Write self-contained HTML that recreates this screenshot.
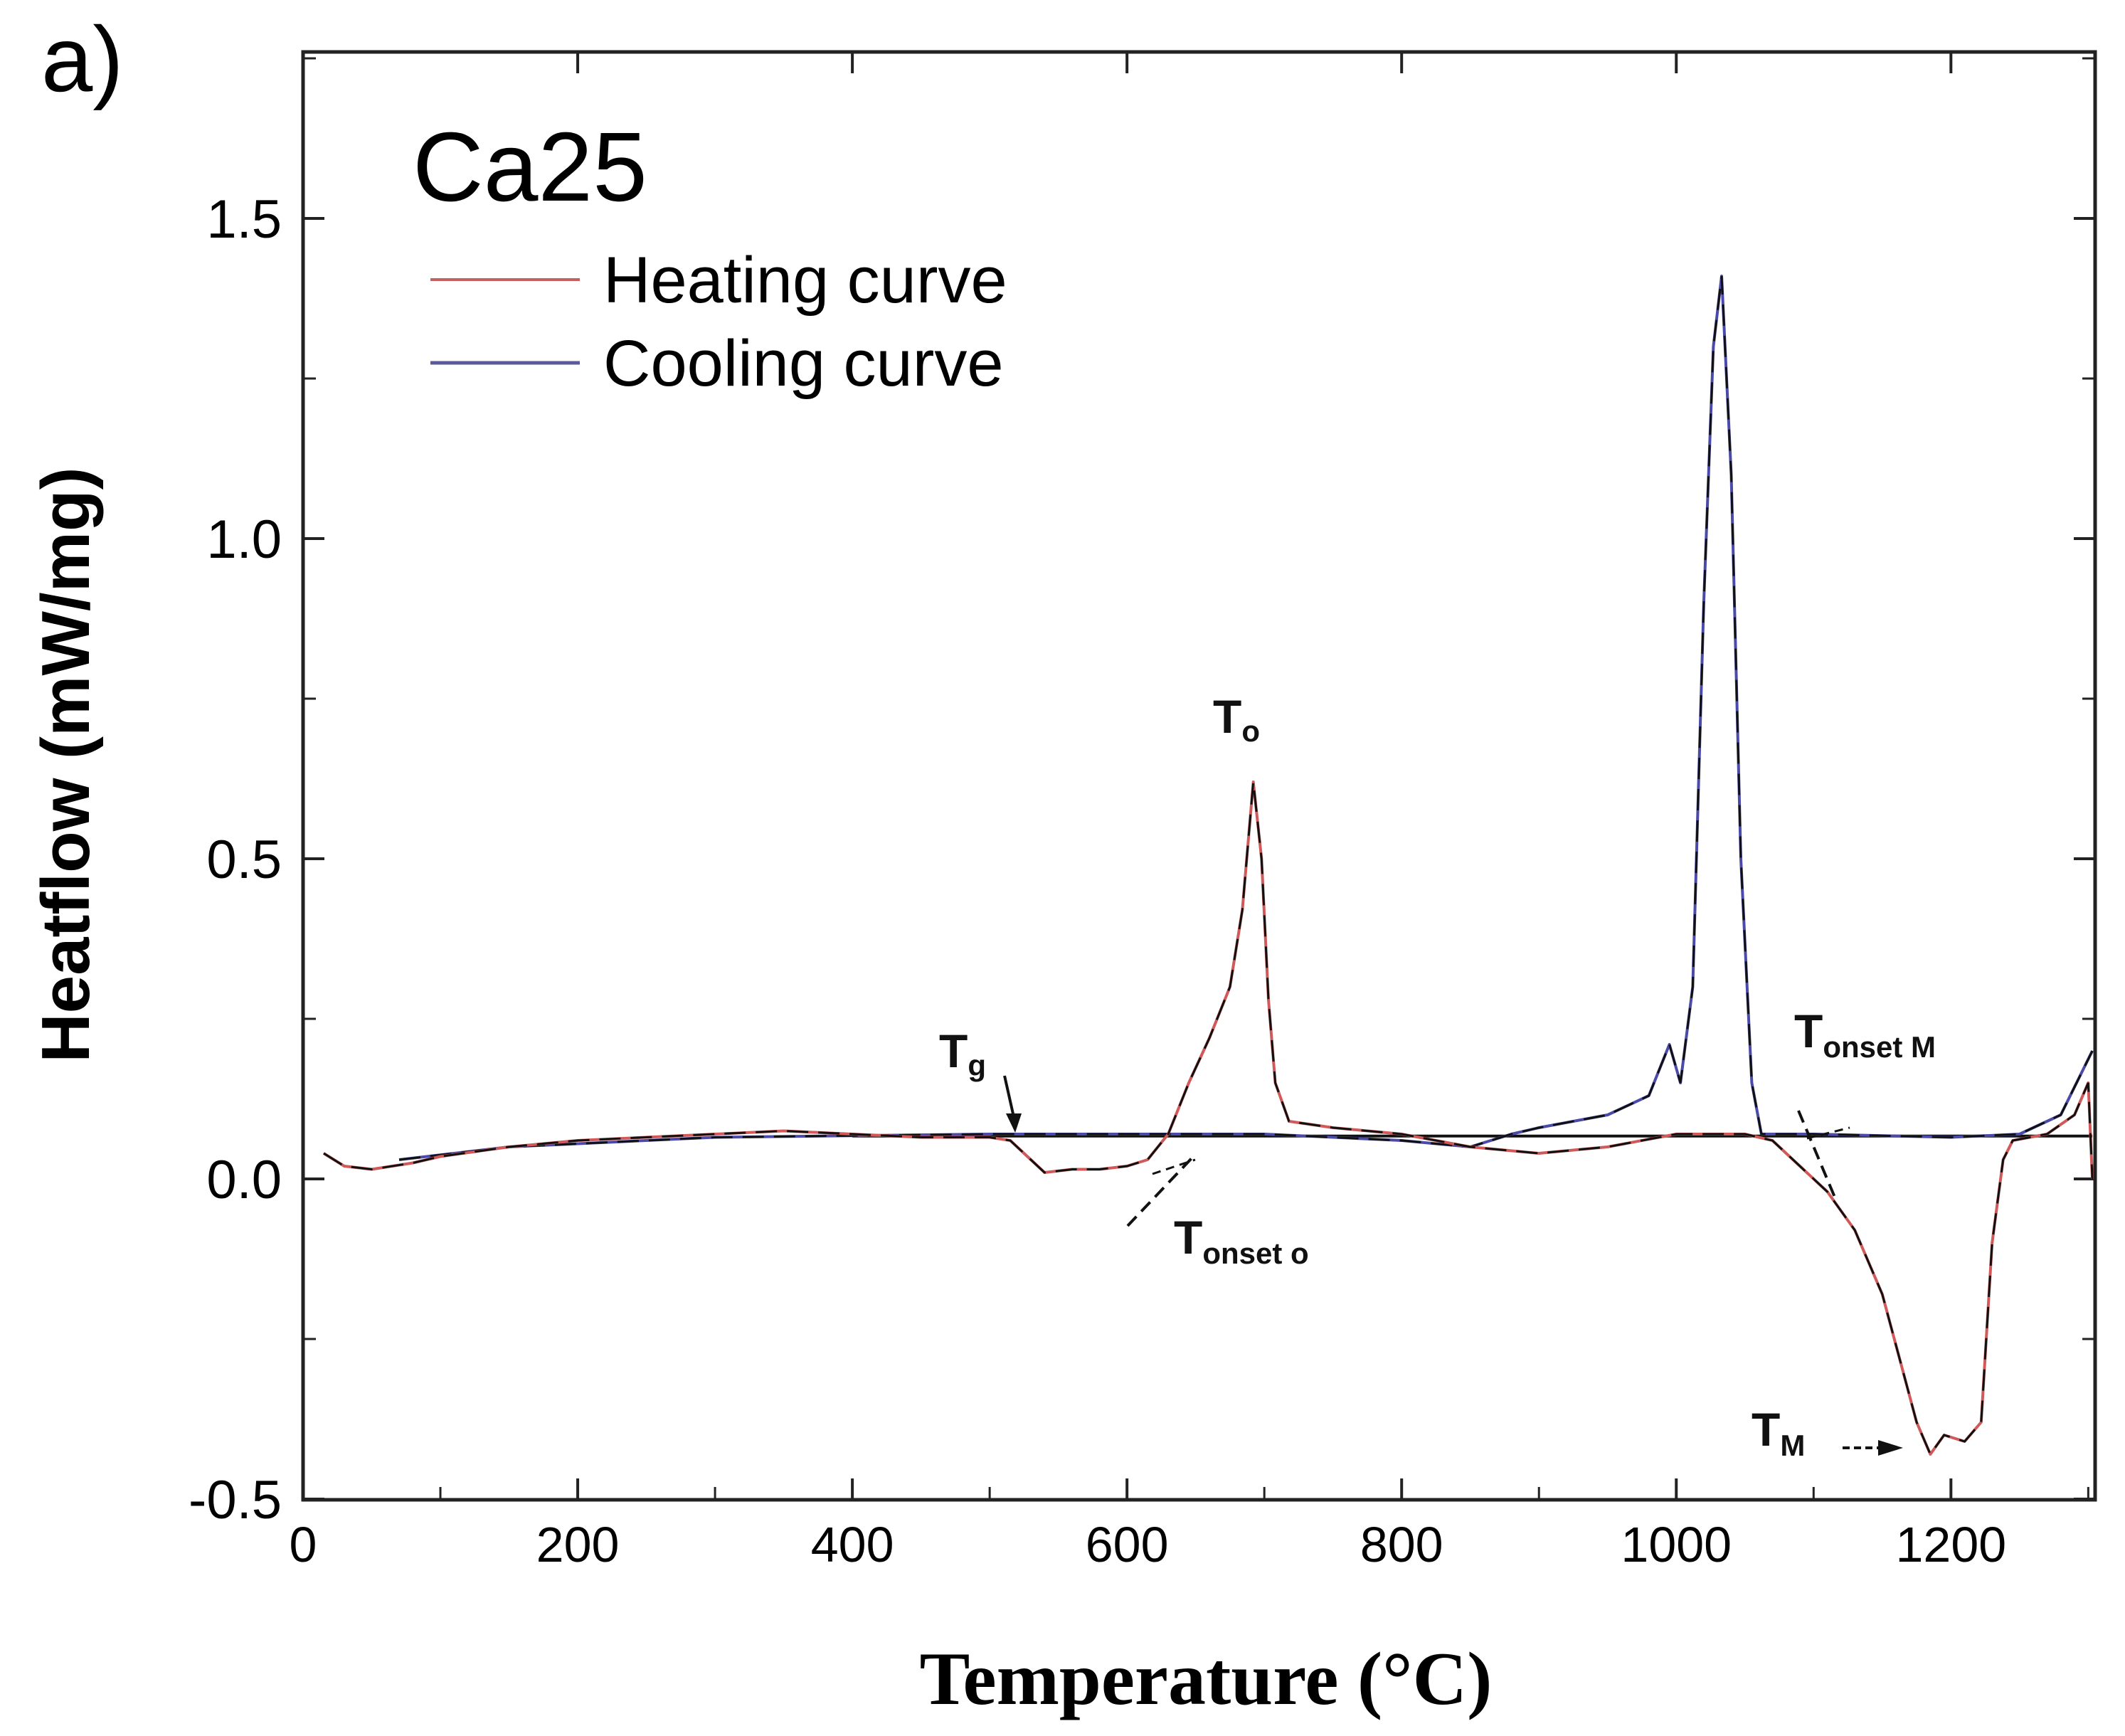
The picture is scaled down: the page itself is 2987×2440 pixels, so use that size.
<!DOCTYPE html>
<html><head><meta charset="utf-8"><style>
html,body{margin:0;padding:0;background:#fff;width:2987px;height:2440px;overflow:hidden}
svg text{font-family:"Liberation Sans",sans-serif}
</style></head><body>
<svg id="chart" width="2987" height="2440" viewBox="0 0 2987 2440" xmlns="http://www.w3.org/2000/svg">
<text x="58" y="128" font-size="130">a)</text>
<rect x="426" y="73" width="2519" height="2035" fill="none" stroke="#222" stroke-width="5"/>
<g id="ticks"></g>
<g id="series"></g>
<text x="580" y="282" font-size="138">Ca25</text>
<line x1="605" y1="393" x2="815" y2="393" stroke="#c46060" stroke-width="4"/>
<text x="848" y="425" font-size="92">Heating curve</text>
<line x1="605" y1="510" x2="815" y2="510" stroke="#5a5a9a" stroke-width="5"/>
<text x="848" y="542" font-size="92">Cooling curve</text>
<text transform="translate(125,1075) rotate(-90)" text-anchor="middle" font-size="96" font-weight="bold">Heatflow (mW/mg)</text>
<text x="1695" y="2395" text-anchor="middle" font-size="106" font-weight="bold" style="font-family:'Liberation Serif',serif">Temperature (°C)</text>
<g font-weight="bold" fill="#111">
<text x="1320" y="1500" font-size="66">T<tspan font-size="42" dy="12">g</tspan></text>
<line x1="1412" y1="1512" x2="1425" y2="1570" stroke="#111" stroke-width="4"/>
<polygon points="1414,1565 1436,1565 1427,1592" fill="#111"/>
<text x="1705" y="1030" font-size="66">T<tspan font-size="42" dy="12">o</tspan></text>
<text x="1650" y="1762" font-size="66">T<tspan font-size="42" dy="14">onset o</tspan></text>
<text x="2522" y="1472" font-size="66">T<tspan font-size="42" dy="14">onset M</tspan></text>
<text x="2462" y="2032" font-size="66">T<tspan font-size="42" dy="14">M</tspan></text>
<line x1="2590" y1="2035" x2="2650" y2="2035" stroke="#111" stroke-width="4" stroke-dasharray="10,6"/>
<polygon points="2640,2024 2675,2035 2640,2046" fill="#111"/>
<line x1="1585" y1="1723" x2="1675" y2="1628" stroke="#111" stroke-width="4" stroke-dasharray="18,10"/>
<line x1="1620" y1="1650" x2="1680" y2="1630" stroke="#111" stroke-width="3" stroke-dasharray="12,8"/>
<line x1="2528" y1="1561" x2="2580" y2="1685" stroke="#111" stroke-width="4" stroke-dasharray="18,10"/>
<line x1="2540" y1="1600" x2="2600" y2="1585" stroke="#111" stroke-width="3" stroke-dasharray="12,8"/>
</g>
</svg>
<script>
const xTicks=[0,200,400,600,800,1000,1200];
const xMinor=[100,300,500,700,900,1100,1300];
const yTicks=[-0.5,0.0,0.5,1.0,1.5];
const yTickLabels=["-0.5","0.0","0.5","1.0","1.5"];
const yMinor=[-0.25,0.25,0.75,1.25,1.75];
const heatT=[15,30,50,80,100,150,200,300,350,400,450,500,515,530,540,560,580,600,615,630,645,660,675,684,692,698,703,708,718,750,800,850,900,950,1000,1050,1070,1090,1110,1130,1150,1165,1175,1185,1195,1210,1222,1230,1238,1245,1270,1290,1300,1303];
const heatV=[0.04,0.02,0.015,0.025,0.035,0.05,0.06,0.07,0.075,0.07,0.065,0.065,0.06,0.03,0.01,0.015,0.015,0.02,0.03,0.07,0.15,0.22,0.3,0.42,0.62,0.5,0.28,0.15,0.09,0.08,0.07,0.05,0.04,0.05,0.07,0.07,0.06,0.02,-0.02,-0.08,-0.18,-0.3,-0.38,-0.43,-0.4,-0.41,-0.38,-0.1,0.03,0.06,0.07,0.1,0.15,0.0];
const coolT=[70,150,300,500,700,800,850,880,900,950,980,995,1003,1012,1020,1027,1033,1040,1047,1055,1062,1100,1200,1250,1280,1303];
const coolV=[0.03,0.05,0.065,0.07,0.07,0.06,0.05,0.07,0.08,0.1,0.13,0.21,0.15,0.3,0.9,1.3,1.41,1.1,0.5,0.15,0.07,0.07,0.065,0.07,0.1,0.2];
const baseT=[400,1303];
const baseV=[0.067,0.067];
const X=t=>426+(t/1305)*2519;
const Y=v=>1657-v*900;
const NS="http://www.w3.org/2000/svg";
const tg=document.getElementById('ticks');
function mk(tag,attrs,parent){const e=document.createElementNS(NS,tag);for(const k in attrs)e.setAttribute(k,attrs[k]);parent.appendChild(e);return e;}
xTicks.forEach(t=>{
 const l=mk('line',{x1:X(t),x2:X(t),y1:2108,y2:2078,stroke:'#222','stroke-width':4},tg);
 
 
 const l2=mk('line',{x1:X(t),x2:X(t),y1:73,y2:103,stroke:'#222','stroke-width':4},tg);
 
 
 const tx=mk('text',{x:X(t),y:2195,'text-anchor':'middle','font-size':70},tg);
 tx.textContent=t;
 
 
});
xMinor.forEach(t=>{
 const l=mk('line',{x1:X(t),x2:X(t),y1:2108,y2:2090,stroke:'#222','stroke-width':3},tg);
 
 
});
yTicks.forEach((v,i)=>{
 const l=mk('line',{x1:426,x2:456,y1:Y(v),y2:Y(v),stroke:'#222','stroke-width':4},tg);
 
 
 const l2=mk('line',{x1:2945,x2:2915,y1:Y(v),y2:Y(v),stroke:'#222','stroke-width':4},tg);
 
 
 const tx=mk('text',{x:396,y:Y(v)+27,'text-anchor':'end','font-size':76},tg);
 tx.textContent=yTickLabels[i];
 
 
});
yMinor.forEach(v=>{
 const l=mk('line',{x1:426,x2:444,y1:Y(v),y2:Y(v),stroke:'#222','stroke-width':3},tg);
 
 
 const l2=mk('line',{x1:2945,x2:2927,y1:Y(v),y2:Y(v),stroke:'#222','stroke-width':3},tg);
 
 
});
const sg=document.getElementById('series');
function pts(ts,vs){return ts.map((t,i)=>X(t).toFixed(1)+','+Y(vs[i]).toFixed(1)).join(' ');}
const b=mk('polyline',{points:pts(baseT,baseV),fill:'none',stroke:'#111','stroke-width':4},sg);


const c=mk('polyline',{points:pts(coolT,coolV),fill:'none',stroke:'#4a4aa8','stroke-width':4,'stroke-linejoin':'round'},sg);


const cd=mk('polyline',{points:pts(coolT,coolV),fill:'none',stroke:'#111','stroke-width':3,'stroke-dasharray':'30,14'},sg);


const h=mk('polyline',{points:pts(heatT,heatV),fill:'none',stroke:'#d05a5a','stroke-width':4,'stroke-linejoin':'round'},sg);


const hd=mk('polyline',{points:pts(heatT,heatV),fill:'none',stroke:'#111','stroke-width':3,'stroke-dasharray':'30,14'},sg);


</script>
</body></html>
